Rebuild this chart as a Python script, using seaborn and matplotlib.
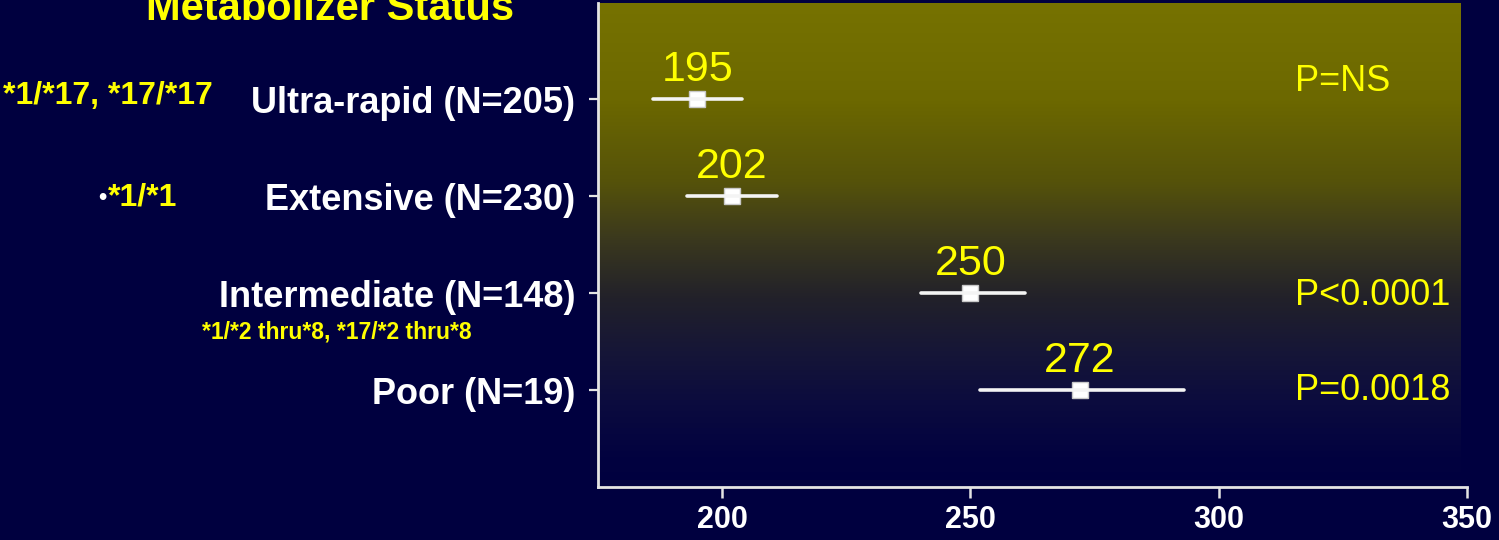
import numpy as np
import pandas as pd
import matplotlib
matplotlib.use("Agg")
import matplotlib.pyplot as plt
from matplotlib.colors import LinearSegmentedColormap
import seaborn as sns

# Metabolizer groups with mean value and 95% CI bounds
groups = ["Ultra-rapid (N=205)", "Extensive (N=230)",
          "Intermediate (N=148)", "Poor (N=19)"]
means = [195, 202, 250, 272]
ci_low = [186, 193, 240, 252]
ci_high = [204, 211, 261, 293]
p_texts = ["P=NS", "", "P<0.0001", "P=0.0018"]
x_ticks = [200, 250, 300, 350]

sns.set_theme(style="white")
plt.rcParams["font.family"] = ["Liberation Sans", "DejaVu Sans"]

NAVY = "#00003f"
YELLOW = "#ffff00"
WHITE = "#f4f4f4"

# long form: each group contributes low / mean / high, so the median is the
# point estimate and the full percentile range is the interval
long = pd.DataFrame({
    "group": np.repeat(groups, 3),
    "value": np.ravel(np.column_stack([ci_low, means, ci_high])),
})

fig = plt.figure(figsize=(14.99, 5.40), dpi=100, facecolor=NAVY)
ax = fig.add_axes([598 / 1499, 1 - 487 / 540, 869 / 1499, 484 / 540])
ax.set_facecolor(NAVY)

# olive-to-navy vertical panel gradient
stops = [(0.00, (118, 114, 0)), (0.20, (108, 104, 0)), (0.37, (85, 82, 10)),
         (0.49, (58, 56, 30)), (0.61, (34, 33, 42)), (0.72, (22, 22, 55)),
         (0.82, (12, 12, 62)), (0.94, (2, 2, 64)), (1.00, (0, 0, 63))]
cmap = LinearSegmentedColormap.from_list(
    "panel", [(p, tuple(c / 255 for c in rgb)) for p, rgb in stops])
grad = np.linspace(0, 1, 512).reshape(-1, 1)
ax.imshow(grad, cmap=cmap, aspect="auto", extent=(0, 0.992, 0, 1),
          transform=ax.transAxes, origin="upper", zorder=0,
          interpolation="bilinear")

sns.pointplot(data=long, x="value", y="group", order=groups, orient="h",
              estimator="median", errorbar=("pi", 100), linestyle="none",
              marker="s", markersize=11.5, markeredgecolor="#c8c8c8",
              markeredgewidth=1.0, color="white",
              err_kws={"linewidth": 2.6, "color": WHITE}, capsize=0, ax=ax)

ax.set_xlim(175, 350)
ax.set_ylim(4.0, -0.99)
ax.set_xticks(x_ticks)
ax.set_xticklabels([str(t) for t in x_ticks])
ax.set_xlabel("")
ax.set_ylabel("")

for side in ("top", "right"):
    ax.spines[side].set_visible(False)
for side in ("left", "bottom"):
    ax.spines[side].set_color("#e4e4e4")
    ax.spines[side].set_linewidth(2)
    ax.spines[side].set_zorder(5)

ax.tick_params(axis="y", left=True, length=6.5, width=1.6, pad=10,
               color="#e4e4e4", labelcolor="white", labelsize=26)
ax.tick_params(axis="x", bottom=True, length=8, width=1.8, pad=5,
               color="#e4e4e4", labelcolor="white", labelsize=22)
for lbl in ax.get_yticklabels() + ax.get_xticklabels():
    lbl.set_fontweight("bold")

# value labels above each point
for i, m in enumerate(means):
    ax.text(m, i - 0.19, str(m), ha="center", va="baseline",
            fontsize=31, color=YELLOW)

# p-values on the right
p_rows = [-0.08, 1.1, 2.12, 3.10]
for y, txt in zip(p_rows, p_texts):
    if txt:
        ax.text(315.4, y, txt, ha="left", va="baseline", fontsize=26,
                color=YELLOW)

# heading and genotype notes
fig.text(330 / 1499, 1 - 20 / 540, "Metabolizer Status", ha="center",
         va="baseline", fontsize=30, fontweight="bold", color=YELLOW)
fig.text(3 / 1499, 1 - 104 / 540, "*1/*17, *17/*17", ha="left",
         va="baseline", fontsize=23, fontweight="bold", color=YELLOW)
fig.text(98 / 1499, 1 - 204 / 540, "\u2022", ha="left", va="baseline",
         fontsize=17, fontweight="bold", color="white")
fig.text(108 / 1499, 1 - 206 / 540, "*1/*1", ha="left", va="baseline",
         fontsize=23, fontweight="bold", color=YELLOW)
fig.text(202 / 1499, 1 - 338 / 540, "*1/*2 thru*8, *17/*2 thru*8",
         ha="left", va="baseline", fontsize=16.5, fontweight="bold",
         color=YELLOW)

fig.savefig("out.png", dpi=100, facecolor=NAVY)
